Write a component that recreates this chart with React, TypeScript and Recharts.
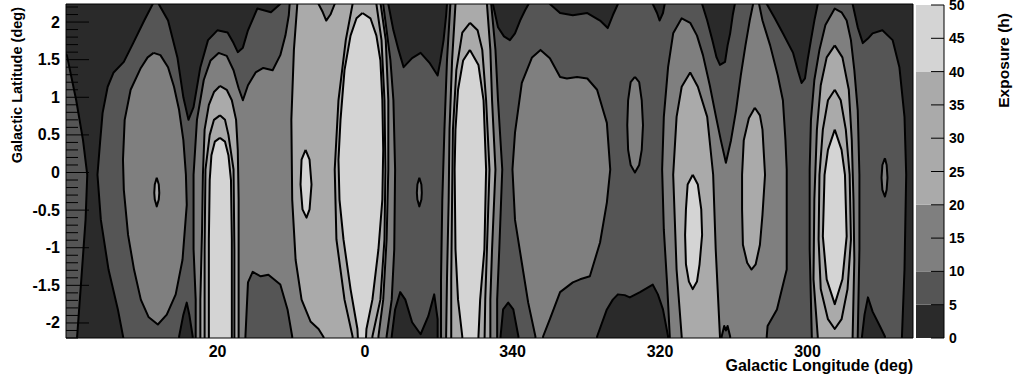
import React from 'react';
import { ComposedChart, Scatter, XAxis, YAxis, CartesianGrid, BarChart, Bar, ReferenceArea } from 'recharts';

type Pt = [number, number];

// ---------- axes ----------
const lonDomain: [number, number] = [-64.5, 35.1];
// the longitude labels of the original are printed on their own, wider scale
const lonLabelDomain: [number, number] = [-74.3, 40.55];
const latDomain: [number, number] = [-2.2, 2.24];
const lonTicks = [20, 0, -20, -40, -60];
const latTicks = [-2, -1.5, -1, -0.5, 0, 0.5, 1, 1.5, 2];
const latMinorTicks = [
  -2.2, -2.1, -2.0, -1.9, -1.8, -1.7, -1.6, -1.5, -1.4, -1.3, -1.2, -1.1, -1.0, -0.9, -0.8, -0.7, -0.6, -0.5,
  -0.4, -0.3, -0.2, -0.1, 0, 0.1, 0.2, 0.3, 0.4, 0.5, 0.6, 0.7, 0.8, 0.9, 1.0, 1.1, 1.2, 1.3, 1.4, 1.5, 1.6,
  1.7, 1.8, 1.9, 2.0, 2.1, 2.2,
];
const exposureTicks = [0, 5, 10, 15, 20, 25, 30, 35, 40, 45, 50];
const exposureBandKeys = ['h0to5', 'h5to10', 'h10to20', 'h20to40', 'h40to50'];
const exposureBandSizes = [5, 5, 10, 20, 10];

// ---------- contour regions, [longitude (deg, signed), latitude (deg)] ----------
// exposure < 5 h
const darkTopLeft: Pt[] = [[36.5, 2.4], [24.9, 2.4], [24.9, 2.24], [25.9, 2.02], [27.2, 1.72], [28.3, 1.47], [29.5, 1.33], [30.2, 1.14], [30.8, 0.79], [31.1, 0.39], [31.4, -0.03], [31.0, -0.63], [30.1, -1.29], [29.0, -1.82], [28.1, -2.35], [33.9, -2.35], [33.3, -1.42], [32.8, -0.63], [32.6, -0.03], [33.1, 0.43], [33.9, 0.96], [35.0, 1.56], [36.5, 1.69]];
const darkTop21: Pt[] = [[24.3, 2.4], [24.2, 2.24], [23.1, 2.02], [22.0, 1.53], [21.3, 1.0], [20.7, 0.7], [20.1, 0.87], [19.3, 1.4], [18.4, 1.76], [17.3, 1.89], [16.1, 1.86], [15.4, 1.72], [14.9, 1.6], [14.3, 1.66], [13.7, 1.89], [12.6, 2.18], [11.0, 2.13], [9.9, 2.24], [9.6, 2.4]];
const darkBottom21: Pt[] = [[21.8, -2.35], [21.8, -2.18], [21.3, -1.89], [20.9, -1.73], [20.6, -1.89], [20.2, -2.18], [20.2, -2.35]];
const darkTop354: Pt[] = [[-2.8, 2.4], [-2.8, 2.24], [-3.4, 1.89], [-4.0, 1.63], [-4.6, 1.4], [-5.6, 1.52], [-6.6, 1.59], [-7.7, 1.45], [-8.6, 1.29], [-8.9, 1.47], [-9.3, 1.76], [-9.6, 2.09], [-9.7, 2.24], [-9.7, 2.4]];
const darkTop343: Pt[] = [[-15.1, 2.4], [-15.1, 2.24], [-15.7, 1.93], [-16.4, 1.81], [-17.1, 1.76], [-17.7, 1.85], [-18.3, 2.02], [-18.9, 2.16], [-19.3, 2.24], [-19.3, 2.4]];
const darkTop334: Pt[] = [[-21.8, 2.4], [-21.8, 2.24], [-23.0, 2.12], [-24.5, 2.09], [-26.2, 2.12], [-27.7, 2.02], [-28.6, 1.92], [-29.2, 2.09], [-29.8, 2.24], [-29.8, 2.4]];
const darkBottom354: Pt[] = [[-3.2, -2.35], [-3.2, -2.18], [-3.6, -1.82], [-4.2, -1.59], [-4.8, -1.69], [-5.6, -1.99], [-6.6, -2.15], [-7.5, -1.91], [-8.2, -1.62], [-8.6, -1.95], [-8.6, -2.18], [-8.6, -2.35]];
const darkBottom343: Pt[] = [[-16.0, -2.35], [-16.0, -2.18], [-16.3, -1.82], [-16.9, -1.73], [-17.5, -1.82], [-18.1, -2.18], [-18.1, -2.35]];
const darkBottom329: Pt[] = [[-27.35, -2.35], [-27.35, -2.18], [-28.5, -1.82], [-29.2, -1.69], [-29.8, -1.62], [-30.6, -1.63], [-31.2, -1.66], [-32.4, -1.59], [-33.9, -1.49], [-34.5, -1.62], [-35.1, -1.82], [-35.7, -2.18], [-35.7, -2.35]];
const darkTop325: Pt[] = [[-33.9, 2.4], [-33.9, 2.24], [-34.4, 2.12], [-34.7, 2.02], [-35.1, 2.12], [-35.3, 2.24], [-35.3, 2.4]];
const darkTop318: Pt[] = [[-39.7, 2.4], [-39.7, 2.24], [-40.3, 2.02], [-40.9, 1.76], [-41.4, 1.53], [-41.8, 1.43], [-42.4, 1.47], [-42.7, 1.69], [-43.0, 1.85], [-43.3, 2.09], [-43.55, 2.24], [-43.55, 2.4]];
const darkTop308: Pt[] = [[-47.3, 2.4], [-47.3, 2.24], [-48.25, 2.05], [-49.2, 1.85], [-50.4, 1.59], [-50.95, 1.36], [-51.4, 1.19], [-51.8, 1.25], [-52.1, 1.49], [-52.5, 1.76], [-52.9, 2.02], [-53.3, 2.24], [-53.3, 2.4]];
const darkRightEdge: Pt[] = [[-57.4, 2.4], [-57.4, 2.24], [-58.0, 1.93], [-58.6, 1.72], [-59.2, 1.78], [-59.75, 1.85], [-60.9, 1.89], [-62.1, 1.76], [-62.9, 1.4], [-63.5, 0.74], [-63.7, -0.03], [-63.5, -1.29], [-63.2, -2.18], [-63.2, -2.35], [-66, -2.35], [-66, 2.4]];
const darkBottom300: Pt[] = [[-58.5, -2.35], [-58.5, -2.18], [-58.8, -1.89], [-59.2, -1.66], [-59.75, -1.85], [-60.6, -2.04], [-61.2, -2.18], [-61.2, -2.35]];

// exposure >= 10 h
const hill25: Pt[] = [[24.8, 1.59], [24.0, 1.56], [23.1, 1.4], [22.4, 1.14], [21.8, 0.83], [21.3, 0.43], [21.0, -0.03], [20.9, -0.43], [21.4, -1.16], [22.2, -1.62], [23.25, -1.89], [24.3, -2.02], [25.4, -1.92], [26.3, -1.69], [27.1, -1.29], [27.8, -0.83], [28.3, -0.23], [28.4, 0.17], [28.2, 0.7], [27.5, 1.1], [26.3, 1.39], [25.5, 1.53]];
const band17to357: Pt[] = [[19.85, -2.35], [19.85, -1.69], [20.1, -1.02], [20.1, -0.03], [19.7, 0.7], [18.9, 1.23], [18.1, 1.49], [17.15, 1.59], [16.2, 1.55], [15.4, 1.36], [14.8, 1.12], [14.3, 0.96], [13.7, 1.16], [12.8, 1.33], [11.9, 1.39], [10.8, 1.36], [9.9, 1.56], [9.3, 1.82], [8.9, 2.09], [8.8, 2.24], [8.8, 2.4], [-2.2, 2.4], [-2.2, 2.24], [-2.6, 1.89], [-3.05, 1.49], [-3.4, 0.96], [-3.6, 0.04], [-3.5, -1.02], [-3.2, -1.69], [-2.6, -2.18], [-2.6, -2.35], [8.5, -2.35], [8.5, -2.18], [9.05, -1.82], [9.9, -1.49], [11.3, -1.36], [12.2, -1.38], [13.15, -1.32], [13.7, -1.46], [14.0, -2.18], [14.0, -2.35]];
const ridge347: Pt[] = [[-10.1, 2.4], [-10.1, 2.24], [-9.7, 1.49], [-9.4, 0.57], [-9.15, -0.36], [-9.0, -1.42], [-9.0, -2.18], [-9.0, -2.35], [-15.6, -2.35], [-15.6, -2.18], [-15.6, -1.69], [-15.85, -1.02], [-16.2, 0.04], [-15.7, 0.96], [-15.4, 1.63], [-14.9, 2.24], [-14.9, 2.4]];
const plateau335: Pt[] = [[-20.1, -2.35], [-20.1, -2.18], [-19.25, -1.73], [-18.5, -1.2], [-17.7, -0.63], [-17.4, 0.04], [-17.7, 0.53], [-18.5, 1.19], [-19.7, 1.53], [-20.7, 1.63], [-21.8, 1.52], [-23.0, 1.27], [-23.8, 1.25], [-25.0, 1.27], [-26.2, 1.25], [-27.35, 1.1], [-28.05, 0.83], [-28.5, 0.66], [-28.9, 0.04], [-28.5, -0.4], [-27.7, -0.93], [-26.5, -1.38], [-25.35, -1.42], [-24.5, -1.46], [-23.0, -1.59], [-21.8, -1.95], [-21.0, -2.18], [-21.0, -2.35]];
const islet328: Pt[] = [[-31.8, 1.27], [-32.3, 1.2], [-32.6, 0.96], [-32.75, 0.63], [-32.6, 0.3], [-32.3, 0.1], [-31.8, 0.0], [-31.3, 0.1], [-31.0, 0.3], [-30.9, 0.63], [-31.0, 0.96], [-31.3, 1.2]];
const twinHill318: Pt[] = [[-35.9, -2.35], [-35.9, -2.18], [-35.6, -1.51], [-35.2, -0.76], [-35.0, 0.04], [-35.2, 0.74], [-35.7, 1.4], [-36.3, 1.85], [-37.3, 2.05], [-38.3, 1.99], [-39.1, 1.82], [-39.8, 1.56], [-40.6, 1.16], [-41.3, 0.76], [-41.9, 0.43], [-42.5, 0.13], [-43.1, 0.43], [-43.7, 0.83], [-44.25, 1.29], [-44.8, 1.69], [-45.3, 2.02], [-45.7, 2.24], [-45.7, 2.4], [-46.4, 2.4], [-46.4, 2.24], [-46.8, 2.02], [-47.7, 1.69], [-48.6, 1.29], [-49.2, 0.96], [-49.5, 0.43], [-49.65, 0.04], [-49.65, -1.29], [-48.5, -1.82], [-47.4, -2.04], [-47.3, -2.18], [-47.3, -2.35]];
const hill305: Pt[] = [[-52.6, -2.35], [-52.6, -2.18], [-52.35, -1.02], [-52.35, 0.04], [-52.5, 0.7], [-52.9, 1.23], [-53.5, 1.63], [-54.2, 1.96], [-55.3, 2.18], [-56.1, 2.13], [-56.7, 2.02], [-57.2, 1.76], [-57.6, 1.36], [-58.0, 0.83], [-58.2, -0.03], [-58.2, -1.02], [-58.0, -2.18], [-58.0, -2.35]];
const islet354: Pt[] = [[-6.45, -0.07], [-6.69, -0.16], [-6.74, -0.27], [-6.69, -0.36], [-6.45, -0.45], [-6.22, -0.36], [-6.16, -0.27], [-6.22, -0.16]];
const islet299: Pt[] = [[-61.2, 0.19], [-61.4, 0.1], [-61.5, -0.07], [-61.4, -0.23], [-61.2, -0.32], [-60.9, -0.23], [-60.8, -0.07], [-60.9, 0.1]];
// local dip below 10 h inside the >= 10 h zone
const dipBottom318: Pt[] = [[-42.0, -2.35], [-42.0, -2.18], [-42.3, -2.04], [-42.5, -2.1], [-42.7, -2.04], [-43.0, -2.18], [-43.0, -2.35]];

// exposure >= 20 h
const knot25: Pt[] = [[24.43, -0.07], [24.19, -0.16], [24.13, -0.27], [24.19, -0.36], [24.43, -0.45], [24.66, -0.36], [24.72, -0.27], [24.66, -0.16]];
const core17: Pt[] = [[17.0, 1.15], [16.2, 1.1], [15.6, 0.96], [15.1, 0.7], [14.9, 0.3], [14.8, -0.36], [14.8, -1.16], [14.8, -2.18], [14.8, -2.35], [19.3, -2.35], [19.3, -1.69], [19.1, -0.76], [19.0, -0.03], [18.8, 0.57], [18.3, 0.9], [17.7, 1.07]];
const core0: Pt[] = [[7.9, 2.4], [7.9, 2.24], [8.3, 1.63], [8.6, 0.7], [8.5, -0.36], [8.1, -1.16], [7.4, -1.69], [6.35, -1.98], [5.4, -2.08], [4.8, -2.19], [4.8, -2.35], [-1.64, -2.35], [-1.64, -2.18], [-2.2, -1.69], [-2.6, -0.89], [-2.8, 0.04], [-2.8, 0.96], [-2.5, 1.76], [-1.9, 2.24], [-1.9, 2.4]];
const core347: Pt[] = [[-10.7, 2.4], [-10.7, 2.24], [-10.3, 1.49], [-10.0, 0.57], [-9.9, -0.36], [-9.7, -1.42], [-9.6, -2.18], [-9.6, -2.35], [-14.8, -2.35], [-14.8, -2.18], [-14.8, -1.69], [-15.0, -1.02], [-15.4, 0.04], [-15.0, 0.96], [-14.8, 1.63], [-14.4, 2.24], [-14.4, 2.4]];
const core322: Pt[] = [[-38.3, 1.33], [-39.2, 1.14], [-40.3, 0.74], [-41.0, -0.03], [-41.3, -1.02], [-41.8, -2.18], [-41.8, -2.35], [-37.3, -2.35], [-37.3, -2.18], [-36.7, -1.29], [-36.3, -0.03], [-36.7, 0.74], [-37.3, 1.14]];
const core314: Pt[] = [[-45.9, 0.86], [-46.5, 0.76], [-46.8, 0.57], [-47.1, -0.03], [-46.8, -0.56], [-46.5, -0.96], [-46.0, -1.22], [-45.5, -1.29], [-45.0, -1.2], [-44.5, -0.96], [-44.4, -0.49], [-44.4, -0.03], [-44.6, 0.43], [-45.2, 0.72]];
const core305: Pt[] = [[-55.3, 1.69], [-56.2, 1.53], [-56.95, 1.1], [-57.3, 0.43], [-57.5, -0.36], [-57.6, -1.16], [-57.4, -2.18], [-57.4, -2.35], [-53.3, -2.35], [-53.3, -2.18], [-52.8, -1.42], [-52.9, -0.36], [-53.2, 0.57], [-53.65, 1.16], [-54.35, 1.53]];
// local dip below 20 h at the upper edge
const dipTop5: Pt[] = [[5.4, 2.4], [5.4, 2.24], [4.9, 2.13], [4.5, 2.02], [4.0, 2.1], [3.5, 2.24], [3.5, 2.4]];

// exposure >= 30 h
const ring17: Pt[] = [[17.0, 0.76], [16.4, 0.7], [16.0, 0.5], [15.4, 0.04], [15.3, -1.02], [15.3, -2.35], [18.8, -2.35], [18.8, -1.02], [18.7, 0.04], [18.2, 0.5], [17.7, 0.7]];
const ring0: Pt[] = [[1.4, 2.4], [1.4, 2.24], [2.2, 1.76], [3.06, 0.96], [3.5, 0.04], [3.3, -0.89], [2.35, -1.69], [1.4, -2.18], [1.4, -2.35], [-0.93, -2.35], [-0.93, -2.18], [-1.87, -1.69], [-2.35, -0.89], [-2.46, 0.04], [-2.35, 0.96], [-2.0, 1.76], [-1.4, 2.24], [-1.4, 2.4]];
const ring347: Pt[] = [[-12.4, 1.99], [-13.3, 1.89], [-13.85, 1.63], [-14.3, 0.96], [-14.7, 0.04], [-14.4, -1.02], [-14.2, -1.69], [-14.1, -2.35], [-10.2, -2.35], [-10.2, -1.42], [-10.3, -0.36], [-10.4, 0.57], [-10.8, 1.36], [-11.5, 1.86]];
const ring305: Pt[] = [[-55.3, 1.1], [-56.0, 0.96], [-56.6, 0.57], [-57.05, -0.03], [-57.2, -0.89], [-56.8, -1.55], [-56.1, -1.95], [-55.3, -2.08], [-54.5, -1.95], [-53.65, -1.55], [-53.4, -0.89], [-53.5, -0.03], [-53.9, 0.57], [-54.5, 0.96]];

// exposure >= 40 h
const peak17: Pt[] = [[17.0, 0.46], [16.4, 0.41], [16.0, 0.23], [15.7, -0.1], [15.6, -0.89], [15.6, -1.69], [15.6, -2.35], [18.3, -2.35], [18.3, -1.69], [18.3, -0.89], [18.2, -0.1], [18.0, 0.23], [17.6, 0.41]];
const peak7: Pt[] = [[6.93, 0.3], [6.46, 0.17], [6.23, -0.16], [6.46, -0.49], [6.82, -0.6], [7.29, -0.49], [7.52, -0.16], [7.4, 0.17]];
const peak0: Pt[] = [[0.24, 2.12], [-0.7, 2.05], [-1.4, 1.82], [-1.87, 1.49], [-2.1, 0.96], [-2.2, 0.3], [-2.1, -0.36], [-1.64, -1.02], [-0.93, -1.69], [-0.23, -2.08], [-0.11, -2.35], [0.71, -2.35], [0.83, -2.08], [1.64, -1.55], [2.47, -0.89], [2.94, -0.36], [3.06, 0.17], [2.82, 0.7], [2.35, 1.36], [1.64, 1.82], [0.94, 2.05]];
const peak347: Pt[] = [[-12.4, 1.63], [-13.4, 1.43], [-14.0, 0.96], [-14.3, 0.04], [-14.1, -1.02], [-13.6, -1.69], [-13.4, -2.18], [-13.4, -2.35], [-11.5, -2.35], [-11.5, -2.18], [-11.0, -1.69], [-10.7, -1.02], [-10.6, 0.04], [-10.7, 0.57], [-11.0, 1.1], [-11.6, 1.49]];
const peak322: Pt[] = [[-38.6, -0.03], [-39.2, -0.16], [-39.6, -0.49], [-39.7, -0.83], [-39.4, -1.22], [-39.1, -1.45], [-38.6, -1.55], [-38.15, -1.45], [-37.8, -1.22], [-37.7, -0.83], [-37.8, -0.49], [-38.0, -0.16]];
const peak305: Pt[] = [[-55.3, 0.57], [-56.1, 0.3], [-56.5, -0.03], [-56.7, -0.85], [-56.2, -1.42], [-55.3, -1.75], [-54.35, -1.42], [-53.9, -0.85], [-54.1, -0.03], [-54.5, 0.3]];

// ---------- styles ----------
const COLORS = ['#2a2a2a', '#555555', '#7f7f7f', '#aaaaaa', '#d4d4d4'];
const FONT = '"Liberation Sans", Arial, Helvetica, sans-serif';

const layers: { name: string; fill: string; polys: Pt[][] }[] = [
  { name: 'lt5', fill: COLORS[0], polys: [darkTopLeft, darkTop21, darkBottom21, darkTop354, darkTop343, darkTop334, darkBottom354, darkBottom343, darkBottom329, darkTop325, darkTop318, darkTop308, darkRightEdge, darkBottom300] },
  { name: 'ge10', fill: COLORS[2], polys: [hill25, band17to357, ridge347, plateau335, islet328, twinHill318, hill305, islet354, islet299] },
  { name: 'dip10', fill: COLORS[1], polys: [dipBottom318] },
  { name: 'ge20', fill: COLORS[3], polys: [knot25, core17, core0, core347, core322, core314, core305] },
  { name: 'ge30', fill: COLORS[3], polys: [ring17, ring0, ring347, ring305] },
  { name: 'dip20', fill: COLORS[2], polys: [dipTop5] },
  { name: 'ge40', fill: COLORS[4], polys: [peak17, peak7, peak0, peak347, peak322, peak305] },
];

const series = layers.flatMap((layer) =>
  layer.polys.map((poly, i) => ({
    id: `${layer.name}-${i}`,
    fill: layer.fill,
    data: [...poly, poly[0]].map(([x, y]) => ({ x, y })),
  }))
);

// invisible anchors that tie the overlay axes to the frame corners
const frameAnchors = [
  { x: lonDomain[0], y: latDomain[0] },
  { x: lonDomain[1], y: latDomain[1] },
];
const labelAnchors = [
  { x: lonLabelDomain[0], y: latDomain[0] },
  { x: lonLabelDomain[1], y: latDomain[1] },
];

const exposureRow: Record<string, number | string> = { name: 'exposure' };
exposureBandKeys.forEach((k, i) => {
  exposureRow[k] = exposureBandSizes[i];
});

const renderNothing = () => <g />;
const fmtLon = (v: number) => String(v < 0 ? v + 360 : v);
const tickFont = { fill: '#000', fontSize: 16, fontWeight: 700, fontFamily: FONT };

// latitude ticks: long + label on the half-degree marks, short marks every 0.1 deg, drawn inward
const LatTick = (props: any) => {
  const { x, y, payload } = props;
  const v = Number(payload.value);
  const major = latTicks.some((t) => Math.abs(t - v) < 1e-6);
  return (
    <g>
      <line x1={x} y1={y} x2={x + (major ? 23 : 12)} y2={y} stroke="#000" strokeWidth={1} />
      {major && (
        <text x={x - 6} y={y} textAnchor="end" dominantBaseline="central" fontSize={16} fontWeight={700} fontFamily={FONT} fill="#000">
          {String(v)}
        </text>
      )}
    </g>
  );
};

// longitude tick marks, drawn inward from the bottom edge
const LonTickMark = (props: any) => {
  const { x, y } = props;
  return <line x1={x} y1={y} x2={x} y2={y - 15} stroke="#000" strokeWidth={1} />;
};

// colour-scale ticks, drawn inward from the right edge of the scale
const ExposureTick = (props: any) => {
  const { x, y, payload } = props;
  return (
    <g>
      <line x1={x} y1={y} x2={x - 13} y2={y} stroke="#000" strokeWidth={1} />
      <text x={x + 5} y={y} textAnchor="start" dominantBaseline="central" fontSize={14} fontWeight={700} fontFamily={FONT} fill="#000">
        {String(payload.value)}
      </text>
    </g>
  );
};

export default function App() {
  return (
    <div style={{ position: 'absolute', left: 0, top: 0, width: 1014, height: 378, background: '#fff', fontFamily: FONT }}>
      {/* contour map */}
      <div style={{ position: 'absolute', left: 0, top: 0 }}>
        <ComposedChart width={1014} height={378} margin={{ top: 4, right: 101, bottom: 40, left: 66 }}>
          <CartesianGrid xAxisId="lon" yAxisId="lat" horizontal={false} vertical={false} fill={COLORS[1]} stroke="none" />
          <XAxis xAxisId="lon" type="number" dataKey="x" domain={lonDomain} reversed allowDataOverflow hide />
          <YAxis yAxisId="lat" type="number" dataKey="y" domain={latDomain} allowDataOverflow hide />
          {series.map((s) => (
            <Scatter
              key={s.id}
              name={s.id}
              data={s.data}
              xAxisId="lon"
              yAxisId="lat"
              fill={s.fill}
              line={{ stroke: '#000', strokeWidth: 2, fill: s.fill, strokeLinejoin: 'round' }}
              lineType="joint"
              shape={renderNothing}
              isAnimationActive={false}
              legendType="none"
            />
          ))}
        </ComposedChart>
      </div>
      {/* frame, ticks and tick labels on top */}
      <div style={{ position: 'absolute', left: 0, top: 0 }}>
        <ComposedChart width={1014} height={378} margin={{ top: 4, right: 101, bottom: 10, left: 0 }}>
          <Scatter data={frameAnchors} xAxisId="lon" yAxisId="lat" shape={renderNothing} isAnimationActive={false} legendType="none" />
          <Scatter data={labelAnchors} xAxisId="labels" yAxisId="lat" shape={renderNothing} isAnimationActive={false} legendType="none" />
          <ReferenceArea
            xAxisId="lon"
            yAxisId="lat"
            x1={lonDomain[0]}
            x2={lonDomain[1]}
            y1={latDomain[0]}
            y2={latDomain[1]}
            fill="none"
            fillOpacity={0}
            stroke="#000"
            strokeWidth={1}
            ifOverflow="visible"
          />
          <XAxis
            xAxisId="lon"
            orientation="bottom"
            mirror
            type="number"
            dataKey="x"
            domain={lonDomain}
            reversed
            allowDataOverflow
            ticks={lonTicks}
            interval={0}
            height={0}
            tickSize={0}
            tickMargin={0}
            tick={<LonTickMark />}
            tickLine={false}
            axisLine={false}
          />
          <XAxis
            xAxisId="labels"
            orientation="bottom"
            type="number"
            dataKey="x"
            domain={lonLabelDomain}
            reversed
            allowDataOverflow
            ticks={lonTicks}
            interval={0}
            tickFormatter={fmtLon}
            height={30}
            tickSize={0}
            tickMargin={8}
            tick={tickFont}
            tickLine={false}
            axisLine={false}
          />
          <YAxis
            yAxisId="lat"
            type="number"
            dataKey="y"
            domain={latDomain}
            allowDataOverflow
            ticks={latMinorTicks}
            interval={0}
            width={66}
            tickSize={0}
            tickMargin={0}
            tick={<LatTick />}
            tickLine={false}
            axisLine={false}
          />
        </ComposedChart>
      </div>
      {/* colour scale */}
      <div style={{ position: 'absolute', left: 900, top: 0 }}>
        <BarChart width={114} height={378} data={[exposureRow]} margin={{ top: 5, right: 0, bottom: 40, left: 16 }} barCategoryGap={0}>
          <XAxis dataKey="name" hide />
          {exposureBandKeys.map((k, i) => (
            <Bar key={k} dataKey={k} stackId="z" fill={COLORS[i]} isAnimationActive={false} />
          ))}
          <YAxis
            orientation="right"
            type="number"
            domain={[0, 50]}
            allowDataOverflow
            ticks={exposureTicks}
            interval={0}
            width={70}
            tickSize={0}
            tickMargin={0}
            tick={<ExposureTick />}
            tickLine={false}
            axisLine={{ stroke: '#000' }}
          />
        </BarChart>
      </div>
      <svg width={1014} height={378} style={{ position: 'absolute', left: 0, top: 0, pointerEvents: 'none' }}>
        <text x={22} y={7} transform="rotate(-90 22 7)" textAnchor="end" fontSize={14.5} fontWeight={700} fontFamily={FONT} fill="#000">
          Galactic Latitude (deg)
        </text>
        <text x={913} y={371} textAnchor="end" fontSize={16} fontWeight={700} fontFamily={FONT} fill="#000">
          Galactic Longitude (deg)
        </text>
        <text x={1009} y={13} transform="rotate(-90 1009 13)" textAnchor="end" fontSize={15.5} fontWeight={700} fontFamily={FONT} fill="#000">
          Exposure (h)
        </text>
      </svg>
    </div>
  );
}
